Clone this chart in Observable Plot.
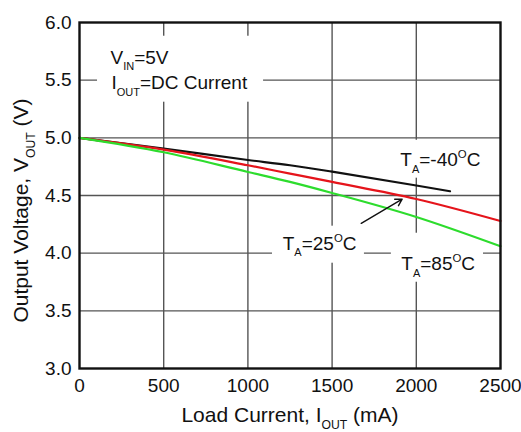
<!DOCTYPE html>
<html><head><meta charset="utf-8">
<script src="https://cdn.jsdelivr.net/npm/d3@7"></script>
<script src="https://cdn.jsdelivr.net/npm/@observablehq/plot@0.6"></script>
<style>body{margin:0;background:#fff}</style>
</head><body><div id="chart"></div>
<script>
// Data
const currentM40 = [0, 500, 1000, 1250, 1500, 2000, 2200];
const voutM40    = [5.0, 4.906, 4.808, 4.762, 4.707, 4.587, 4.537];
const current25  = [0, 500, 1000, 1250, 1500, 2000, 2500];
const vout25     = [5.0, 4.898, 4.762, 4.69, 4.618, 4.47, 4.279];
const current85  = [0, 500, 1000, 1250, 1500, 2000, 2500];
const vout85     = [5.0, 4.875, 4.704, 4.618, 4.522, 4.314, 4.06];
const seriesNames = ["-40", "25", "85"];
const seriesColors = ["#111111", "#e5141b", "#2ddc2d"];

const xTicks = [0, 500, 1000, 1500, 2000, 2500];
const yTicks = [3.0, 3.5, 4.0, 4.5, 5.0, 5.5, 6.0];

// Annotation texts and anchors (data units)
const noteText = ["V_{IN}=5V", "I_{OUT}=DC Current", "T_{A}=-40^{O}C", "T_{A}=25^{O}C", "T_{A}=85^{O}C"];
const noteX = [184, 190, 1905, 1207, 1911];
const noteY = [5.644, 5.42, 4.754, 4.031, 3.852];
// white boxes behind annotations (data units)
const boxX1 = [107, 1859, 1146, 1852];
const boxX2 = [1093, 2423, 1692, 2399];
const boxY1 = [5.881, 4.979, 4.234, 4.173];
const boxY2 = [5.309, 4.65, 3.913, 3.748];
// arrow pointing to the 25°C curve
const arrowX1 = [1673], arrowY1 = [4.259], arrowX2 = [1916], arrowY2 = [4.468];

const xTitle = "Load Current, I_{OUT} (mA)";
const yTitle = "Output Voltage, V_{OUT} (V)";

const rows = [];
[[currentM40, voutM40], [current25, vout25], [current85, vout85]].forEach(([xs, ys], i) => {
  xs.forEach((x, j) => rows.push({series: seriesNames[i], x, y: ys[j]}));
});
const notes = noteText.map((t, i) => ({t, x: noteX[i], y: noteY[i]}));
const boxes = boxX1.map((d, i) => ({x1: d, x2: boxX2[i], y1: boxY1[i], y2: boxY2[i]}));
const arrows = arrowX1.map((d, i) => ({x1: d, y1: arrowY1[i], x2: arrowX2[i], y2: arrowY2[i]}));

const font = "'Liberation Sans', Arial, Helvetica, sans-serif";
const chart = Plot.plot({
  width: 521, height: 432,
  marginLeft: 79, marginRight: 21, marginTop: 22, marginBottom: 64,
  style: {fontFamily: font, background: "#fff", color: "#111"},
  x: {domain: [0, 2500]},
  y: {domain: [3, 6]},
  color: {domain: seriesNames, range: seriesColors},
  marks: [
    Plot.gridX(xTicks.slice(1, -1), {stroke: "#555", strokeOpacity: 1, strokeWidth: 1.4}),
    Plot.gridY(yTicks.slice(1, -1), {stroke: "#555", strokeOpacity: 1, strokeWidth: 1.4}),
    Plot.rect(boxes, {x1: "x1", x2: "x2", y1: "y1", y2: "y2", fill: "white"}),
    Plot.line(rows, {x: "x", y: "y", z: "series", stroke: "series", strokeWidth: 2.2, curve: "monotone-x"}),
    Plot.frame({stroke: "#111", strokeWidth: 2.4}),
    Plot.axisX({ticks: xTicks, tickSize: 0, tickPadding: 10, fontSize: 19, label: null, tickFormat: d3.format("d")}),
    Plot.axisY({ticks: yTicks, tickSize: 0, tickPadding: 8, fontSize: 19, label: null, tickFormat: d3.format(".1f")}),
    Plot.text(notes, {x: "x", y: "y", text: "t", textAnchor: "start", lineAnchor: "bottom", fontSize: 19, fill: "#111", className: "rich"}),
    Plot.arrow(arrows, {x1: "x1", y1: "y1", x2: "x2", y2: "y2", stroke: "#111", strokeWidth: 1.4, headLength: 8, bend: 0}),
    Plot.text([xTitle], {frameAnchor: "bottom", dy: 53, textAnchor: "middle", lineAnchor: "bottom", fontSize: 21, fill: "#111", className: "rich"}),
    Plot.text([yTitle], {frameAnchor: "left", dx: -52, dy: 15, rotate: -90, textAnchor: "middle", lineAnchor: "bottom", fontSize: 21, fill: "#111", className: "rich"})
  ]
});

const ns = "http://www.w3.org/2000/svg";
function rich(el) {
  if (el.querySelector("tspan")) return;
  const s = el.textContent;
  if (!/[_^]\{/.test(s)) return;
  const base = parseFloat(getComputedStyle(el).fontSize) || 19;
  while (el.firstChild) el.removeChild(el.firstChild);
  const parts = s.split(/(_\{[^}]*\}|\^\{[^}]*\})/).filter(p => p);
  let shift = 0;
  for (const p of parts) {
    const t = document.createElementNS(ns, "tspan");
    let target = 0, size = null, str = p;
    if (p.startsWith("_{")) { target = base * 0.34; size = base * 0.58; str = p.slice(2, -1); }
    else if (p.startsWith("^{")) { target = -base * 0.42; size = base * 0.6; str = p.slice(2, -1); }
    t.setAttribute("dy", (target - shift).toFixed(2));
    shift = target;
    if (size) t.setAttribute("font-size", size.toFixed(1));
    t.textContent = str;
    el.appendChild(t);
  }
}
document.getElementById("chart").appendChild(chart);
chart.querySelectorAll("text").forEach(rich);
</script></body></html>
